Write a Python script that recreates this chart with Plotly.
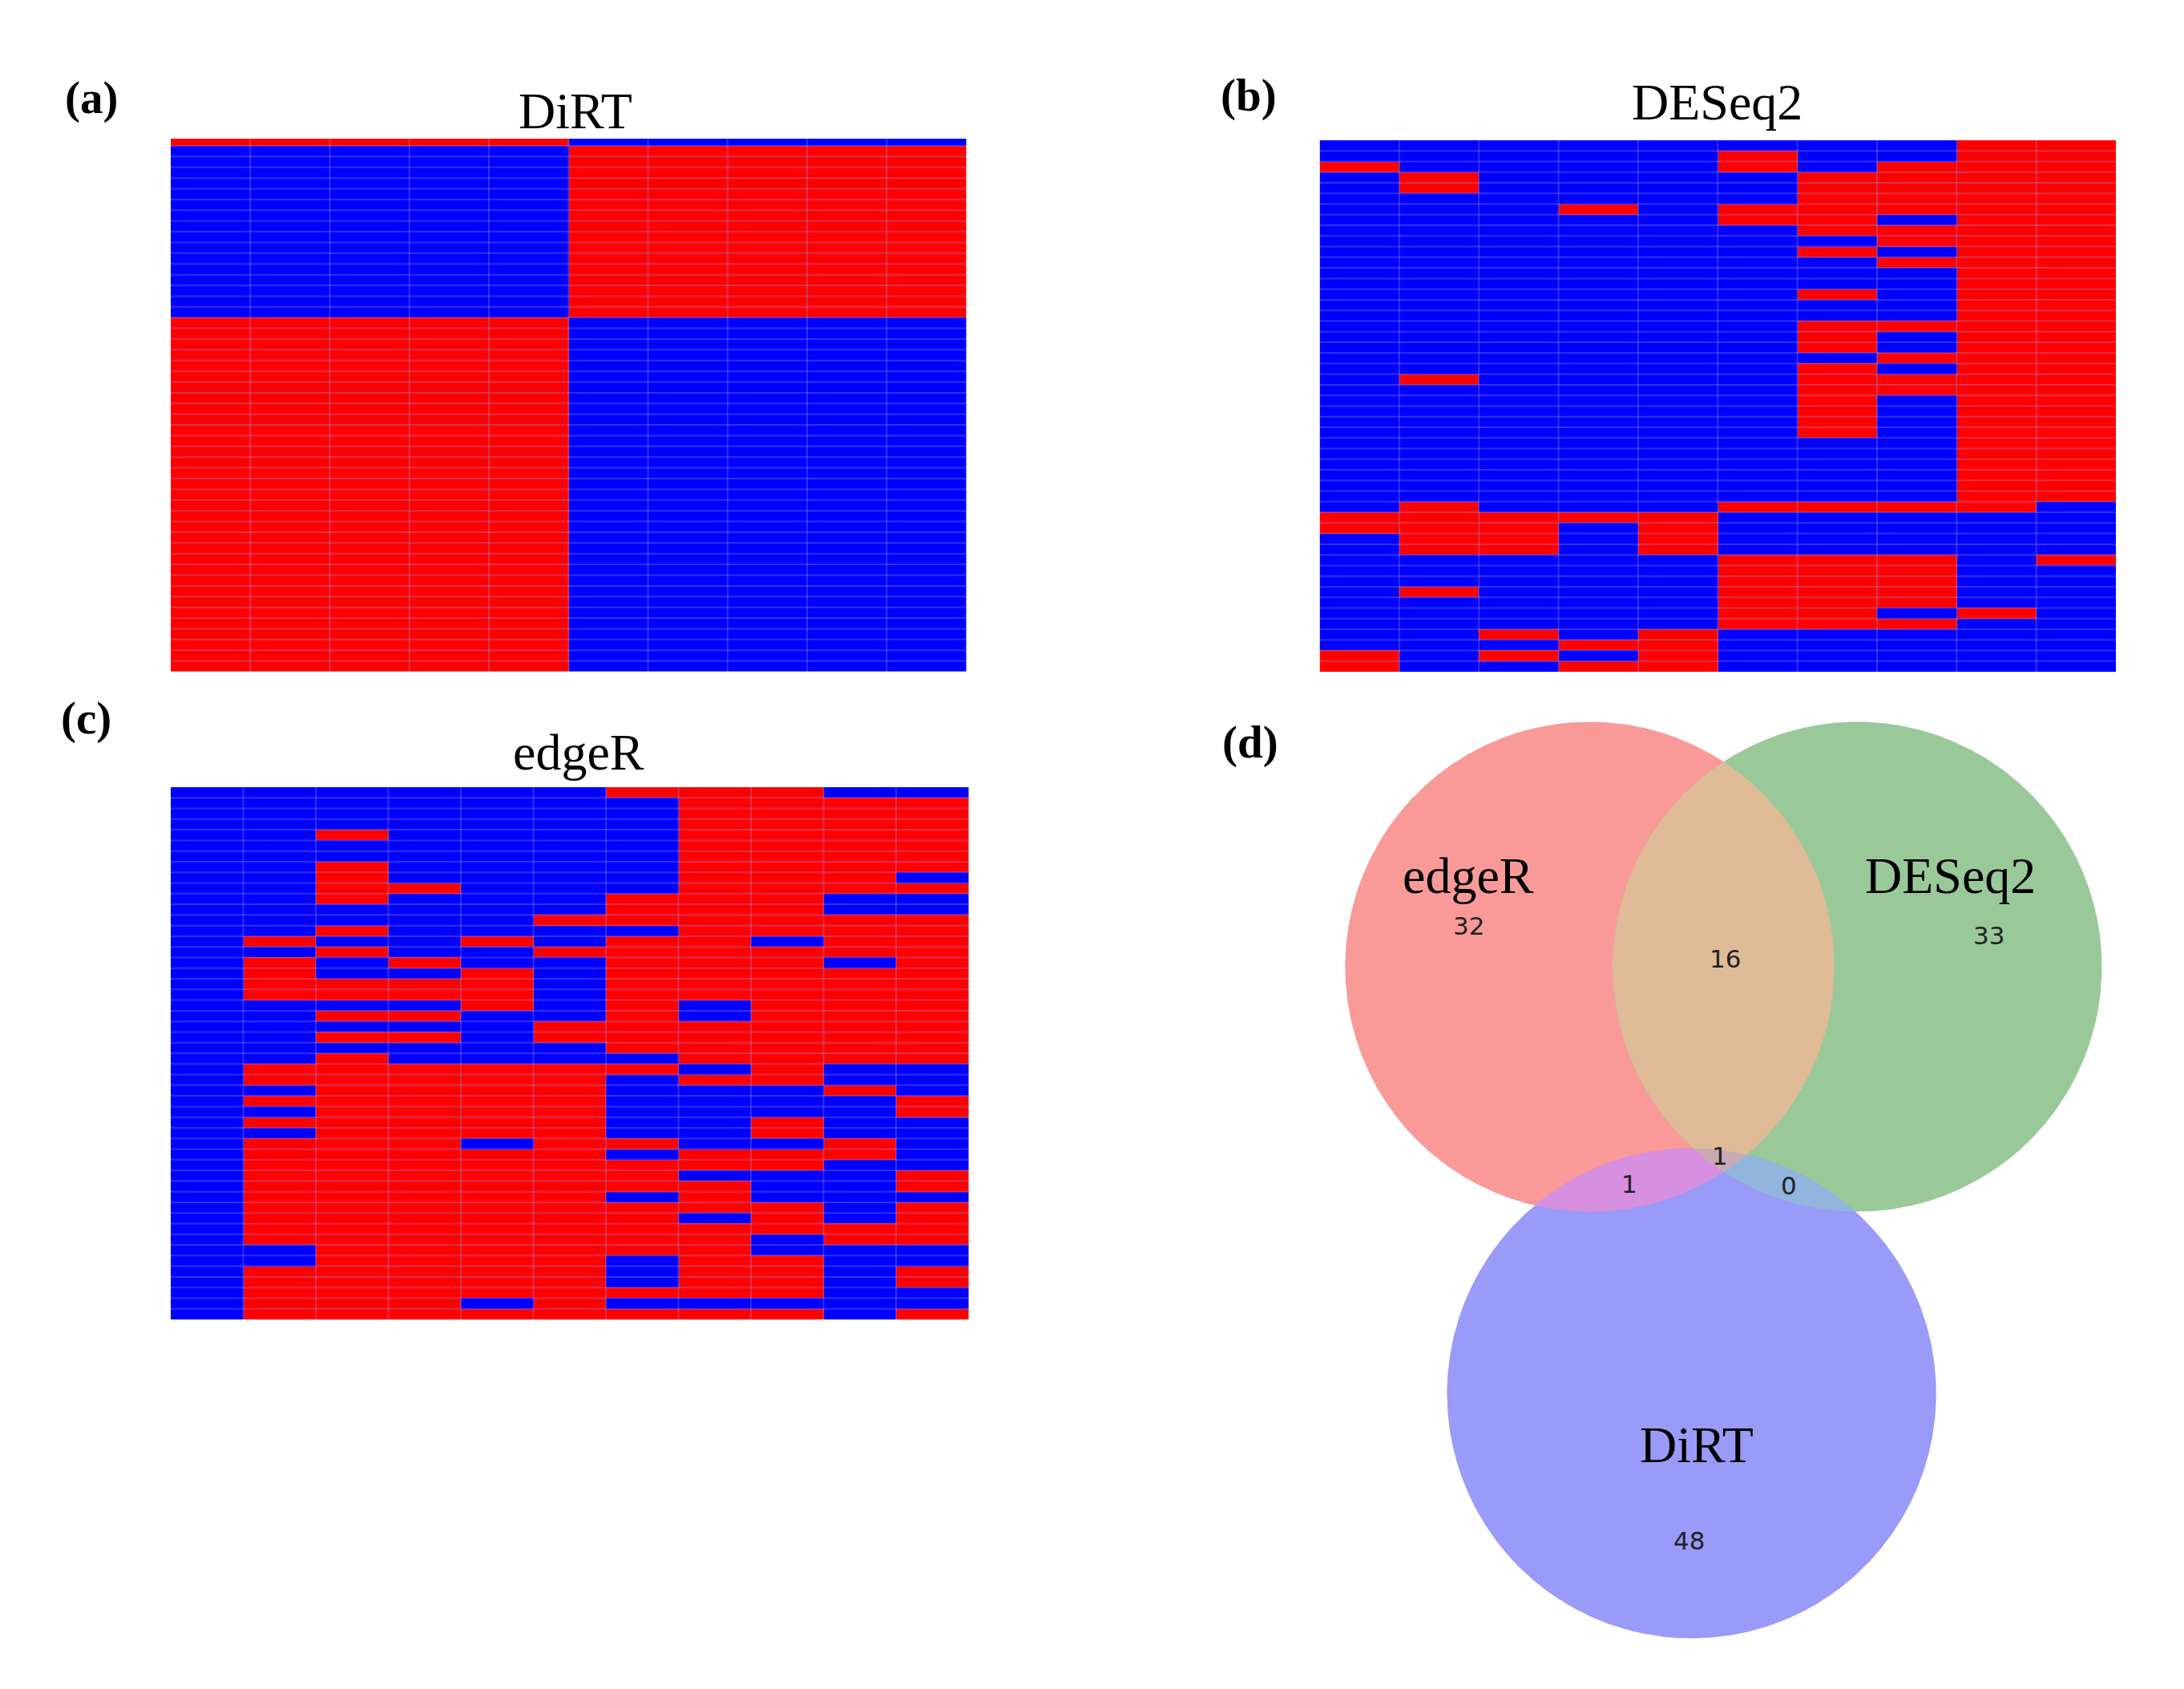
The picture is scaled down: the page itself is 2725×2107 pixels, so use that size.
import math
import numpy as np
import plotly.graph_objects as go

# ---------------------------------------------------------------- data
HEATMAP_TITLES = ["DiRT", "DESeq2", "edgeR"]
PANEL_LABELS = ["(a)", "(b)", "(c)", "(d)"]

# 1 = up (red), 0 = down (blue); one string per gene row, one char per sample
DIRT_ROWS = [
    "1111100000",
    "0000011111", "0000011111", "0000011111", "0000011111", "0000011111",
    "0000011111", "0000011111", "0000011111", "0000011111", "0000011111",
    "0000011111", "0000011111", "0000011111", "0000011111", "0000011111",
    "0000011111",
    "1111100000", "1111100000", "1111100000", "1111100000", "1111100000",
    "1111100000", "1111100000", "1111100000", "1111100000", "1111100000",
    "1111100000", "1111100000", "1111100000", "1111100000", "1111100000",
    "1111100000", "1111100000", "1111100000", "1111100000", "1111100000",
    "1111100000", "1111100000", "1111100000", "1111100000", "1111100000",
    "1111100000", "1111100000", "1111100000", "1111100000", "1111100000",
    "1111100000", "1111100000", "1111100000",
]

DESEQ2_ROWS = [
    "0000000011", "0000010011", "1000010111", "0100001111", "0100001111",
    "0000001111", "0001011111", "0000011011", "0000001111", "0000000111",
    "0000001011", "0000000111", "0000000011", "0000000011", "0000001011",
    "0000000011", "0000000011", "0000001111", "0000001011", "0000001011",
    "0000000111", "0000001011", "0100001111", "0000001111", "0000001011",
    "0000001011", "0000001011", "0000001011", "0000000011", "0000000011",
    "0000000011", "0000000011", "0000000011", "0000000011", "0100011110",
    "1111100000", "1110100000", "0110100000", "0110100000", "0000011101",
    "0000011100", "0000011100", "0100011100", "0000011100", "0000011010",
    "0000011100", "0010100000", "0001100000", "1010100000", "1001100000",
]

EDGER_ROWS = [
    "00000011100", "00000001111", "00000001111", "00000001111", "00100001111",
    "00000001111", "00000001111", "00100001111", "00100001110", "00110001111",
    "00100011100", "00000011100", "00000111111", "00100001111", "01001011011",
    "00100111111", "01010011101", "01001011111", "01111011111", "01111011111",
    "00001010111", "00110010111", "00000111111", "00110111111", "00000011111",
    "00100001111", "01111110100", "01111101100", "00111100010", "01111100001",
    "00111100001", "01111100100", "00111100100", "01110110010", "01111101110",
    "01111111100", "01111110001", "01111111001", "01111101000", "01111111101",
    "01111110101", "01111111111", "01111111011", "00111111000", "00111101100",
    "01111101101", "01111101101", "01111111100", "01110100000", "01111111101",
]

VENN_SET_NAMES = ["edgeR", "DESeq2", "DiRT"]
VENN_REGION_KEYS = ["100", "010", "110", "001", "101", "011", "111"]
VENN_REGION_COUNTS = [32, 33, 16, 48, 1, 0, 1]

# ---------------------------------------------------------------- style / layout
W, H = 2725, 2107
XS = 0.9955                      # horizontal calibration of page-pixel positions
LOW_COLOR, HIGH_COLOR = "#0000ff", "#ff0000"
GRID_COLOR = "rgba(150,150,235,0.32)"
SERIF = "Liberation Serif, Times New Roman, serif"
SANS = "DejaVu Sans, Verdana, sans-serif"

# left, top, right, bottom in page pixels
HEATMAP_BOXES = [(214, 173, 1211, 838), (1654, 175, 2652, 838), (214, 982, 1214, 1646)]
HEATMAP_TOP_EDGE = [-0.17, -0.5, -0.5]     # DiRT first row is partly cropped
TITLE_POS = [(721, 139), (2152, 128), (725, 939)]
PANEL_POS = [(115, 122), (1565, 119), (108, 896), (1567, 926)]

VENN_BOX = (1600, 880, 2739, 2107)
VENN_ORIGIN_PX = (2161, 1206)   # page pixel of the midpoint between the first two centres
VENN_UNIT_PX = 307              # page pixels per unit radius
REGION_COLORS = {"100": "#f99a99", "010": "#99c999", "001": "#9a9af9",
                 "110": "#dfbb97", "101": "#d78fdf", "011": "#91b5dd", "111": "#c9a9b3"}
REGION_LABEL_POS = {"100": (-1.042, 0.167), "010": (1.085, 0.127), "110": (0.007, 0.033),
                    "001": (-0.141, -2.343), "101": (-0.386, -0.886), "011": (0.268, -0.892),
                    "111": (-0.016, -0.771)}
SET_LABEL_POS = [(-1.042, 0.373), (0.928, 0.373), (-0.108, -1.951)]


def px(x):
    return x * XS / W


def py(y):
    return 1 - y / H


fig = go.Figure()
shapes = []
annotations = []

# ---------------------------------------------------------------- heatmaps
for k, (title, rows) in enumerate(zip(HEATMAP_TITLES, [DIRT_ROWS, DESEQ2_ROWS, EDGER_ROWS])):
    z = np.array([[int(ch) for ch in r] for r in rows])
    nrows, ncols = z.shape
    ax = "" if k == 0 else str(k + 1)
    fig.add_trace(go.Heatmap(
        z=z, x=list(range(ncols)), y=list(range(nrows)),
        colorscale=[[0, LOW_COLOR], [1, HIGH_COLOR]], zmin=0, zmax=1,
        showscale=False, hoverinfo="skip", xaxis="x" + ax, yaxis="y" + ax))
    l, t, r, b = HEATMAP_BOXES[k]
    fig.layout["xaxis" + ax] = dict(domain=[px(l), px(r)], range=[-0.5, ncols - 0.5],
                                    visible=False, fixedrange=True)
    fig.layout["yaxis" + ax] = dict(domain=[py(b), py(t)],
                                    range=[nrows - 0.5, HEATMAP_TOP_EDGE[k]],
                                    visible=False, fixedrange=True)
    for c in range(ncols - 1):
        shapes.append(dict(type="line", xref="x" + ax, yref="y" + ax + " domain",
                           x0=c + 0.5, x1=c + 0.5, y0=0, y1=1, layer="above",
                           line=dict(color=GRID_COLOR, width=2)))
    for rr in range(nrows - 1):
        shapes.append(dict(type="line", xref="x" + ax + " domain", yref="y" + ax,
                           x0=0, x1=1, y0=rr + 0.5, y1=rr + 0.5, layer="above",
                           line=dict(color=GRID_COLOR, width=2)))
    tx, ty = TITLE_POS[k]
    annotations.append(dict(text=title, x=px(tx), y=py(ty), xref="paper", yref="paper",
                            xanchor="center", yanchor="middle", showarrow=False,
                            font=dict(family=SERIF, size=64, color="black")))

for lab, (lx, ly) in zip(PANEL_LABELS, PANEL_POS):
    annotations.append(dict(text="<b>" + lab + "</b>", x=px(lx), y=py(ly), xref="paper",
                            yref="paper", xanchor="center", yanchor="middle", showarrow=False,
                            font=dict(family=SERIF, size=57, color="black")))

# ---------------------------------------------------------------- area-proportional Venn
counts = dict(zip(VENN_REGION_KEYS, VENN_REGION_COUNTS))
set_sizes = [sum(v for key, v in counts.items() if key[i] == "1") for i in range(3)]


def pair_size(i, j):
    return sum(v for key, v in counts.items() if key[i] == "1" and key[j] == "1")


smax = max(set_sizes)
radii = [math.sqrt(s / smax) for s in set_sizes]


def lens_area(r1, r2, d):
    if d >= r1 + r2:
        return 0.0
    if d <= abs(r1 - r2):
        return math.pi * min(r1, r2) ** 2
    a1 = r1 ** 2 * math.acos((d * d + r1 * r1 - r2 * r2) / (2 * d * r1))
    a2 = r2 ** 2 * math.acos((d * d + r2 * r2 - r1 * r1) / (2 * d * r2))
    a3 = 0.5 * math.sqrt((-d + r1 + r2) * (d + r1 - r2) * (d - r1 + r2) * (d + r1 + r2))
    return a1 + a2 - a3


def solve_distance(i, j):
    target = math.pi * pair_size(i, j) / smax
    lo, hi = abs(radii[i] - radii[j]) + 1e-9, radii[i] + radii[j]
    for _ in range(100):
        mid = 0.5 * (lo + hi)
        if lens_area(radii[i], radii[j], mid) > target:
            lo = mid
        else:
            hi = mid
    return 0.5 * (lo + hi)


dAB, dAC, dBC = solve_distance(0, 1), solve_distance(0, 2), solve_distance(1, 2)
ax_c = (dAC ** 2 - dBC ** 2 + dAB ** 2) / (2 * dAB)
centers = [(-dAB / 2, 0.0), (dAB / 2, 0.0),
           (-dAB / 2 + ax_c, -math.sqrt(max(dAC ** 2 - ax_c ** 2, 0.0)))]


def circle_pts(i, n=2880):
    t = np.linspace(0, 2 * np.pi, n, endpoint=False)
    return np.c_[centers[i][0] + radii[i] * np.cos(t), centers[i][1] + radii[i] * np.sin(t)]


def inside(p, i):
    return np.hypot(p[:, 0] - centers[i][0], p[:, 1] - centers[i][1]) <= radii[i] + 1e-9


def circle_cross(i, j):
    (x1, y1), (x2, y2) = centers[i], centers[j]
    d = math.hypot(x2 - x1, y2 - y1)
    a = (radii[i] ** 2 - radii[j] ** 2 + d * d) / (2 * d)
    h = math.sqrt(max(radii[i] ** 2 - a * a, 0.0))
    xm, ym = x1 + a * (x2 - x1) / d, y1 + a * (y2 - y1) / d
    return np.array([[xm + h * (y2 - y1) / d, ym - h * (x2 - x1) / d],
                     [xm - h * (y2 - y1) / d, ym + h * (x2 - x1) / d]])


def region_polygon(idx):
    parts = []
    for i in idx:
        p = circle_pts(i)
        mask = np.ones(len(p), bool)
        for j in idx:
            if j != i:
                mask &= inside(p, j)
        parts.append(p[mask])
    for a in range(len(idx)):
        for b in range(a + 1, len(idx)):
            q = circle_cross(idx[a], idx[b])
            mask = np.ones(len(q), bool)
            for j in idx:
                if j not in (idx[a], idx[b]):
                    mask &= inside(q, j)
            parts.append(q[mask])
    P = np.vstack(parts)
    m = P.mean(axis=0)
    P = P[np.argsort(np.arctan2(P[:, 1] - m[1], P[:, 0] - m[0]))]
    return np.vstack([P, P[:1]])


draw_order = [("100", [0]), ("010", [1]), ("001", [2]),
              ("101", [0, 2]), ("011", [1, 2]), ("110", [0, 1]), ("111", [0, 1, 2])]
for key, idx in draw_order:
    poly = region_polygon(idx)
    fig.add_trace(go.Scatter(x=poly[:, 0], y=poly[:, 1], mode="lines", fill="toself",
                             fillcolor=REGION_COLORS[key], line=dict(width=0, color=REGION_COLORS[key]),
                             hoverinfo="skip", showlegend=False, xaxis="x4", yaxis="y4"))

l, t, r, b = VENN_BOX
ox, oy = VENN_ORIGIN_PX
fig.layout["xaxis4"] = dict(domain=[px(l), min(px(r), 1.0)],
                            range=[(l - ox) / VENN_UNIT_PX, (r - ox) / VENN_UNIT_PX],
                            visible=False, fixedrange=True)
uy = VENN_UNIT_PX * XS
fig.layout["yaxis4"] = dict(domain=[py(b), py(t)],
                            range=[(oy - b) / uy, (oy - t) / uy],
                            visible=False, fixedrange=True)

for key, v in counts.items():
    x, y = REGION_LABEL_POS[key]
    annotations.append(dict(text=str(v), x=x, y=y, xref="x4", yref="y4", showarrow=False,
                            xanchor="center", yanchor="middle",
                            font=dict(family=SANS, size=31, color="#222222")))
for name, (x, y) in zip(VENN_SET_NAMES, SET_LABEL_POS):
    annotations.append(dict(text=name, x=x, y=y, xref="x4", yref="y4", showarrow=False,
                            xanchor="center", yanchor="middle",
                            font=dict(family=SERIF, size=64, color="black")))

fig.update_layout(width=W, height=H, margin=dict(l=0, r=0, t=0, b=0),
                  paper_bgcolor="white", plot_bgcolor="white", showlegend=False,
                  shapes=shapes, annotations=annotations)

fig.write_html("out.html", include_plotlyjs=True, full_html=True,
               config={"displayModeBar": False, "staticPlot": True},
               post_script="document.body.style.margin='0px';")
